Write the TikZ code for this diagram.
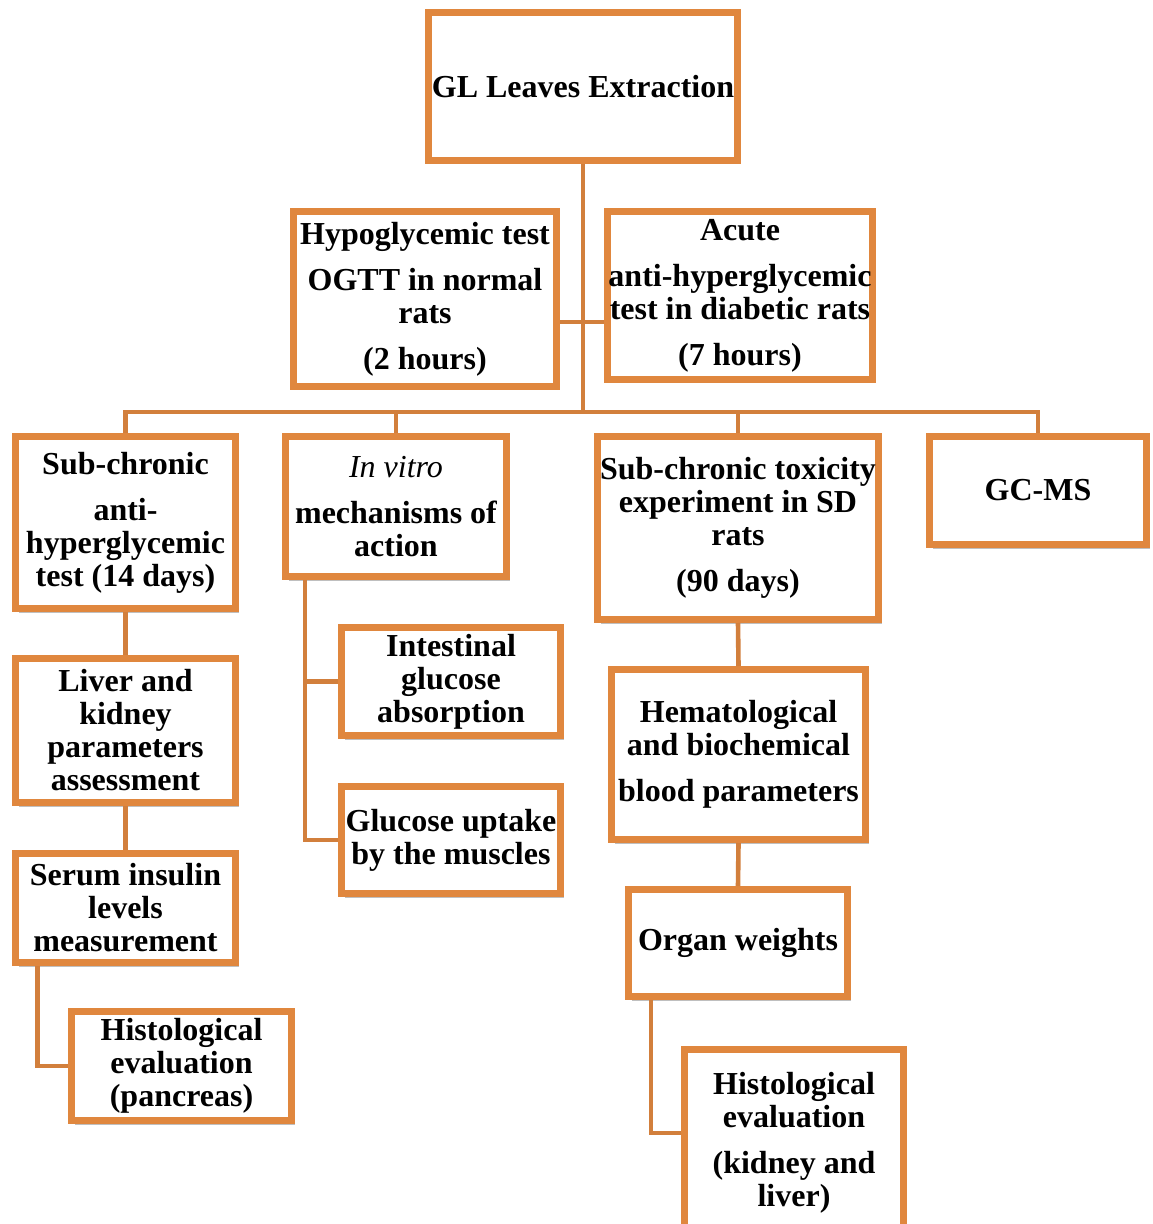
\documentclass[tikz,border=0pt]{standalone}
\usepackage{fontspec}
\setmainfont{Liberation Serif}
\usetikzlibrary{positioning,shadows}
\definecolor{boxorange}{RGB}{224,135,62}
\definecolor{lineorange}{RGB}{210,127,60}

\begin{document}
\begin{tikzpicture}[x=0.5pt,y=-0.5pt,
  box/.style={rectangle,draw=boxorange,line width=3.5pt,fill=white,inner sep=0pt,
    align=center,font=\fontsize{16}{16.5}\selectfont\bfseries,
    general shadow={shadow xshift=1.5pt,shadow yshift=-2pt,fill=black,opacity=.25}},
  link/.style={draw=lineorange,line width=2.3pt}]

  \clip (0,0) rectangle (1152,1224);
  \fill[white] (0,0) rectangle (1152,1224);

  % top and first level
  \node[box,minimum width=154.5pt,minimum height=74pt] (gl) at (583,86.5) {GL Leaves Extraction};
  \node[box,minimum width=131.5pt,minimum height=87.5pt] (hypo) at (425,299)
    {Hypoglycemic test\\[6.5pt] OGTT in normal\\ rats\\[6.5pt] (2 hours)};
  \node[box,minimum width=132.5pt,minimum height=84pt] (acute) at (740,295.5)
    {Acute\\[6.5pt] anti-hyperglycemic\\ test in diabetic rats\\[6.5pt] (7 hours)};

  % second level
  \node[box,minimum width=110pt,minimum height=86pt] (subchr) at (125.5,522.5)
    {Sub-chronic\\[6.5pt] anti-\\ hyperglycemic\\ test (14 days)};
  \node[box,minimum width=110.5pt,minimum height=70pt] (invitro) at (396,506.5)
    {{\mdseries\itshape In vitro}\\[6.5pt] mechanisms of\\ action};
  \node[box,minimum width=140.5pt,minimum height=91.5pt] (toxic) at (738,528)
    {Sub-chronic toxicity\\ experiment in SD\\ rats\\[6.5pt] (90 days)};
  \node[box,minimum width=108.5pt,minimum height=54pt] (gcms) at (1038,490.5) {GC-MS};

  % anti-hyperglycemic branch
  \node[box,minimum width=110pt,minimum height=72pt] (liver) at (125.5,730.5)
    {Liver and\\ kidney\\ parameters\\ assessment};
  \node[box,minimum width=110pt,minimum height=54.5pt] (serum) at (125.5,908)
    {Serum insulin\\ levels\\ measurement};
  \node[box,minimum width=110pt,minimum height=54.5pt] (histop) at (181.5,1066)
    {Histological\\ evaluation\\ (pancreas)};

  % in vitro branch
  \node[box,minimum width=109.5pt,minimum height=54pt] (intest) at (451,681.5)
    {Intestinal\\ glucose\\ absorption};
  \node[box,minimum width=109.5pt,minimum height=53.5pt] (uptake) at (451,840)
    {Glucose uptake\\ by the muscles};

  % toxicity branch
  \node[box,minimum width=127pt,minimum height=85pt] (hemato) at (738.5,754.5)
    {Hematological\\ and biochemical\\[6.5pt] blood parameters};
  \node[box,minimum width=109.5pt,minimum height=53.5pt] (organ) at (738,943) {Organ weights};
  \node[box,minimum width=109.5pt,minimum height=93.5pt] (histok) at (794,1143)
    {Histological\\ evaluation\\[6.5pt] (kidney and\\ liver)};

  \coordinate (bus) at (583,412);
  \coordinate (mid) at (583,322);

  \path[link] (gl.south) -- (bus);
  \path[link] (hypo.east |- mid) -- (acute.west |- mid);
  \path[link] (subchr.north) |- (bus) -| (gcms.north);
  \path[link] (invitro.north) -- (invitro.north |- bus);
  \path[link] (toxic.north) -- (toxic.north |- bus);

  \path[link] (subchr.south) -- (liver.north);
  \path[link] (liver.south) -- (serum.north);
  \path[link] ([xshift=-44pt]serum.south) |- (histop.west);

  \path[link] ([xshift=-45.5pt]invitro.south) |- (intest.west);
  \path[link] ([xshift=-45.5pt]invitro.south) |- (uptake.west);

  \path[link] (toxic.south) -- (hemato.north);
  \path[link] (hemato.south) -- (organ.north);
  \path[link] ([xshift=-43.5pt]organ.south) |- ([yshift=5pt]histok.west);

\end{tikzpicture}
\end{document}
